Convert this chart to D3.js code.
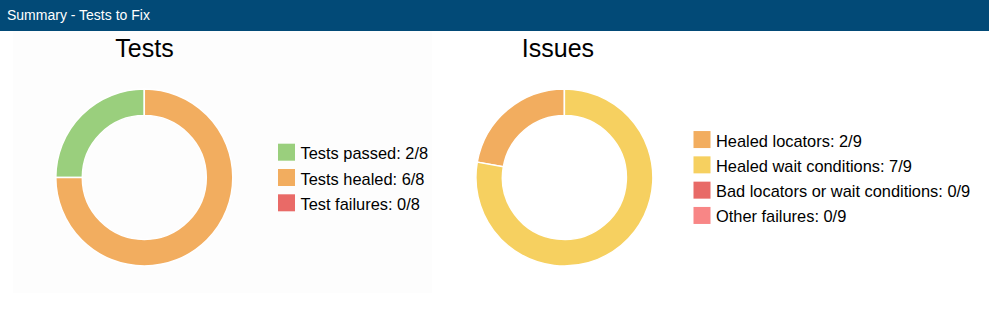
<!DOCTYPE html>
<html>
<head>
<meta charset="utf-8">
<script src="https://cdn.jsdelivr.net/npm/d3@7"></script>
<style>
  body { margin: 0; background: #fff; }
  svg { display: block; font-family: "Liberation Sans", Arial, sans-serif; }
</style>
</head>
<body>
<svg id="canvas" width="989" height="310"></svg>
<script>
const headerTitle = "Summary - Tests to Fix";

const testLabels = ["Tests passed", "Tests healed", "Test failures"];
const testValues = [2, 6, 0];
const testColors = ["#9acf7d", "#f2ad5f", "#e96a67"];

const issueLabels = ["Healed locators", "Healed wait conditions", "Bad locators or wait conditions", "Other failures"];
const issueValues = [2, 7, 0, 0];
const issueColors = ["#f2ad5f", "#f6d060", "#e86a67", "#f88686"];

const svg = d3.select("#canvas");
const width = 989;

// header bar
svg.append("rect")
    .attr("x", 0).attr("y", 0)
    .attr("width", width).attr("height", 31)
    .attr("fill", "#024a77");
svg.append("text")
    .attr("x", 7).attr("y", 19.5)
    .attr("fill", "#fff")
    .attr("font-size", 14)
    .text(headerTitle);

// faint panel behind the first chart
svg.append("rect")
    .attr("x", 13).attr("y", 31)
    .attr("width", 419).attr("height", 262)
    .attr("fill", "#fdfdfd");

drawDonut({
    title: "Tests", titleX: 144.5,
    cx: 144.3, cy: 177.5,
    labels: testLabels, values: testValues, colors: testColors,
    legendX: 278
});

drawDonut({
    title: "Issues", titleX: 558,
    cx: 564.4, cy: 177.5,
    labels: issueLabels, values: issueValues, colors: issueColors,
    legendX: 693.5
});

function drawDonut(o) {
    const total = d3.sum(o.values);
    const outer = 88.5, inner = 62;

    svg.append("text")
        .attr("x", o.titleX).attr("y", 57)
        .attr("text-anchor", "middle")
        .attr("font-size", 25)
        .attr("fill", "#000")
        .text(o.title);

    const items = o.labels.map((l, i) => ({ label: l, value: o.values[i], color: o.colors[i] }));

    // counter-clockwise from 12 o'clock
    const pie = d3.pie()
        .sort(null)
        .value(d => d.value)
        .startAngle(0)
        .endAngle(-2 * Math.PI);

    const arc = d3.arc().innerRadius(inner).outerRadius(outer);

    const g = svg.append("g").attr("transform", `translate(${o.cx},${o.cy})`);
    g.selectAll("path")
        .data(pie(items).filter(d => d.data.value > 0))
        .join("path")
        .attr("d", arc)
        .attr("fill", d => d.data.color)
        .attr("stroke", "#fff")
        .attr("stroke-width", 1.5);

    const step = 25.3;
    const sw = 17;
    const top = o.cy - (items.length * step - (step - sw)) / 2;
    const lg = svg.append("g");
    const row = lg.selectAll("g")
        .data(items)
        .join("g")
        .attr("transform", (d, i) => `translate(${o.legendX},${top + i * step})`);
    row.append("rect")
        .attr("width", sw).attr("height", sw)
        .attr("fill", d => d.color);
    row.append("text")
        .attr("x", 22.5).attr("y", 15.5)
        .attr("font-size", 16.4)
        .attr("fill", "#000")
        .text(d => `${d.label}: ${d.value}/${total}`);
}
</script>
</body>
</html>
